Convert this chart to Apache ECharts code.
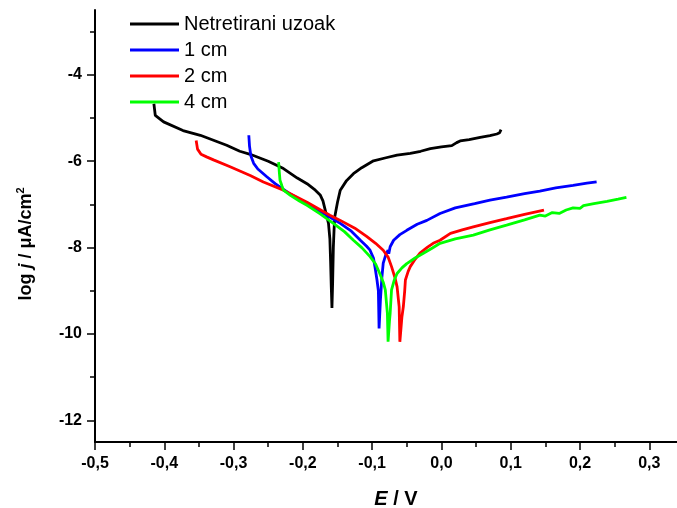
<!DOCTYPE html>
<html>
<head>
<meta charset="utf-8">
<script src="https://cdn.jsdelivr.net/npm/echarts@6/dist/echarts.min.js"></script>
<style>html,body{margin:0;padding:0;background:#fff}#c{width:677px;height:508px}</style>
</head>
<body>
<div id="c"></div>
<script>
// ---- data (E / V, log j) ----
var seriesNames = ['Netretirani uzoak', '1 cm', '2 cm', '4 cm'];

var blackE = [-0.415,-0.413,-0.401,-0.373,-0.348,-0.310,-0.291,-0.276,-0.250,-0.228,-0.208,-0.194,-0.182,-0.175,-0.171,-0.167,-0.163,-0.161,-0.160,-0.159,-0.158,-0.157,-0.156,-0.155,-0.154,-0.150,-0.146,-0.137,-0.127,-0.115,-0.098,-0.080,-0.064,-0.045,-0.030,-0.016,0.000,0.015,0.022,0.027,0.040,0.056,0.070,0.080,0.084,0.086];
var blackLogJ = [-4.67,-4.94,-5.09,-5.29,-5.40,-5.63,-5.77,-5.84,-6.00,-6.17,-6.39,-6.52,-6.67,-6.78,-6.92,-7.18,-7.44,-7.80,-8.30,-8.90,-9.40,-8.80,-8.00,-7.60,-7.29,-6.95,-6.67,-6.45,-6.29,-6.15,-5.99,-5.92,-5.86,-5.82,-5.77,-5.71,-5.67,-5.64,-5.57,-5.53,-5.50,-5.45,-5.41,-5.37,-5.34,-5.27];

var blueE = [-0.278,-0.277,-0.275,-0.271,-0.265,-0.252,-0.240,-0.220,-0.194,-0.170,-0.146,-0.130,-0.117,-0.108,-0.103,-0.098,-0.096,-0.093,-0.091,-0.090,-0.088,-0.086,-0.084,-0.080,-0.077,-0.076,-0.074,-0.069,-0.060,-0.050,-0.035,-0.021,-0.002,0.020,0.048,0.070,0.094,0.120,0.142,0.165,0.190,0.210,0.224];
var blueLogJ = [-5.40,-5.65,-5.88,-6.05,-6.18,-6.36,-6.52,-6.74,-6.98,-7.21,-7.44,-7.62,-7.83,-7.97,-8.06,-8.25,-8.44,-8.75,-9.00,-9.87,-9.20,-8.70,-8.36,-8.15,-8.06,-8.14,-7.98,-7.83,-7.70,-7.60,-7.46,-7.37,-7.21,-7.08,-6.98,-6.90,-6.83,-6.75,-6.69,-6.62,-6.56,-6.51,-6.48];

var redE = [-0.354,-0.352,-0.347,-0.339,-0.329,-0.305,-0.276,-0.257,-0.228,-0.194,-0.161,-0.146,-0.125,-0.108,-0.095,-0.084,-0.077,-0.072,-0.067,-0.064,-0.061,-0.060,-0.057,-0.055,-0.053,-0.052,-0.048,-0.045,-0.038,-0.031,-0.020,-0.012,-0.002,0.013,0.030,0.046,0.070,0.094,0.120,0.148];
var redLogJ = [-5.52,-5.72,-5.84,-5.90,-5.97,-6.13,-6.33,-6.48,-6.67,-6.95,-7.25,-7.37,-7.55,-7.74,-7.90,-8.06,-8.22,-8.44,-8.70,-8.91,-9.37,-10.18,-9.60,-9.37,-9.00,-8.75,-8.55,-8.44,-8.27,-8.13,-7.99,-7.90,-7.83,-7.67,-7.59,-7.52,-7.42,-7.33,-7.23,-7.13];

var greenE = [-0.235,-0.234,-0.233,-0.230,-0.228,-0.218,-0.205,-0.194,-0.175,-0.156,-0.140,-0.127,-0.115,-0.103,-0.095,-0.089,-0.084,-0.081,-0.078,-0.077,-0.075,-0.074,-0.072,-0.068,-0.064,-0.057,-0.050,-0.038,-0.026,-0.013,-0.002,0.020,0.046,0.070,0.094,0.120,0.142,0.150,0.160,0.170,0.180,0.190,0.200,0.205,0.220,0.239,0.255,0.267];
var greenLogJ = [-6.02,-6.25,-6.44,-6.58,-6.67,-6.79,-6.92,-7.02,-7.22,-7.44,-7.63,-7.83,-8.00,-8.21,-8.38,-8.60,-8.80,-8.98,-9.52,-10.18,-9.70,-9.52,-8.98,-8.75,-8.60,-8.47,-8.37,-8.24,-8.13,-8.01,-7.90,-7.80,-7.71,-7.59,-7.48,-7.36,-7.25,-7.27,-7.19,-7.21,-7.13,-7.08,-7.09,-7.03,-6.98,-6.93,-6.88,-6.84];

var xTickValues = [-0.5,-0.4,-0.3,-0.2,-0.1,0.0,0.1,0.2,0.3];
var yTickValues = [-12,-10,-8,-6,-4];

var colors = ['#000000', '#0000ff', '#ff0000', '#00ff00'];

function zip(a, b) { return a.map(function (v, i) { return [v, b[i]]; }); }
var allData = [zip(blackE, blackLogJ), zip(blueE, blueLogJ), zip(redE, redLogJ), zip(greenE, greenLogJ)];

var FONT = '"Liberation Sans", Arial, sans-serif';
var chart = echarts.init(document.getElementById('c'), null, { renderer: 'canvas' });
chart.setOption({
  animation: false,
  backgroundColor: '#ffffff',
  grid: { left: 95, top: 10, right: 0, bottom: 66, containLabel: false, outerBoundsMode: 'none' },
  legend: {
    orient: 'vertical', left: 125, top: 9, itemWidth: 49, itemHeight: 3, itemGap: 6,
    icon: 'rect', selectedMode: false,
    data: seriesNames,
    textStyle: { fontFamily: FONT, fontSize: 20, color: '#000', lineHeight: 20 }
  },
  xAxis: {
    type: 'value', min: -0.5, max: 0.34, interval: 0.1,
    name: '{i|E}{b| / V}', nameLocation: 'middle', nameGap: 47,
    nameTextStyle: { padding: [0, 0, 0, 20], rich: {
      i: { fontFamily: FONT, fontSize: 20, fontWeight: 'bold', fontStyle: 'italic', color: '#000' },
      b: { fontFamily: FONT, fontSize: 20, fontWeight: 'bold', color: '#000' } } },
    axisLine: { show: true, onZero: false, lineStyle: { color: '#000', width: 2 } },
    axisTick: { show: true, inside: false, length: 8, customValues: xTickValues, lineStyle: { color: '#000', width: 1.5 } },
    minorTick: { show: true, splitNumber: 2, length: 5, lineStyle: { color: '#000', width: 1.5 } },
    axisLabel: { margin: 14, customValues: xTickValues, fontFamily: FONT, fontSize: 16, fontWeight: 'bold', color: '#000',
      formatter: function (v) { return v.toFixed(1).replace('.', ','); } },
    splitLine: { show: false }
  },
  yAxis: {
    type: 'value', min: -12.5, max: -2.5,
    name: '{b|log }{i|j}{b| / μA/cm}{s|2}', nameLocation: 'middle', nameGap: 58,
    nameTextStyle: { padding: [0, 36, 0, 0], rich: {
      b: { fontFamily: FONT, fontSize: 18, fontWeight: 'bold', color: '#000', lineHeight: 22 },
      i: { fontFamily: FONT, fontSize: 18, fontWeight: 'bold', fontStyle: 'italic', color: '#000', lineHeight: 22 },
      s: { fontFamily: FONT, fontSize: 11, fontWeight: 'bold', color: '#000', verticalAlign: 'top', lineHeight: 22 } } },
    axisLine: { show: true, onZero: false, lineStyle: { color: '#000', width: 2 } },
    axisTick: { show: true, inside: false, length: 8, customValues: yTickValues, lineStyle: { color: '#000', width: 1.5 } },
    minorTick: { show: true, splitNumber: 2, length: 5, lineStyle: { color: '#000', width: 1.5 } },
    axisLabel: { margin: 13, customValues: yTickValues, fontFamily: FONT, fontSize: 16, fontWeight: 'bold', color: '#000',
      formatter: function (v) { return String(Math.round(v)); } },
    splitLine: { show: false }
  },
  series: seriesNames.map(function (n, i) {
    return {
      name: n, type: 'line', data: allData[i], showSymbol: false, symbol: 'none',
      lineStyle: { color: colors[i], width: 2.8 }, itemStyle: { color: colors[i] },
      smooth: false, z: 2 + i, clip: true
    };
  })
});
</script>
</body>
</html>
